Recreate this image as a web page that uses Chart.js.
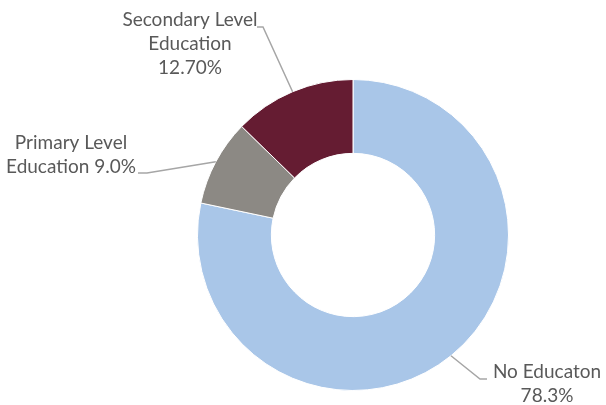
<!DOCTYPE html>
<html>
<head>
<meta charset="utf-8">
<script src="https://cdn.jsdelivr.net/npm/chart.js@4.4.0/dist/chart.umd.min.js"></script>
<style>
  html, body { margin: 0; padding: 0; background: #fff; }
  #wrap { width: 606px; height: 405px; }
</style>
</head>
<body>
<div id="wrap"><canvas id="chart"></canvas></div>
<script>
// data
const categories = ["No Educaton", "Primary Level Education", "Secondary Level Education"];
const shares = [78.3, 9.0, 12.7];
const shareLabels = ["78.3%", "9.0%", "12.70%"];
const colors = ["#a9c6e8", "#8c8984", "#651c32"];

// label text lines (as in the original) and where they sit
const labelLines = [
  ["No Educaton", "78.3%"],
  ["Primary Level", "Education 9.0%"],
  ["Secondary Level", "Education", "12.70%"]
];
const labelSpots = [
  { elbow: [480, 379], end: [487, 379], x: 547, y: 372 },
  { elbow: [147, 173], end: [138, 173], x: 71, y: 143 },
  { elbow: [263, 27], end: [257, 27], x: 190, y: 20 }
];

const leaderLabels = {
  id: "leaderLabels",
  afterDatasetsDraw(chart) {
    const ctx = chart.ctx;
    const arcs = chart.getDatasetMeta(0).data;
    ctx.save();
    arcs.forEach((arc, i) => {
      const mid = (arc.startAngle + arc.endAngle) / 2;
      const sx = arc.x + Math.cos(mid) * arc.outerRadius;
      const sy = arc.y + Math.sin(mid) * arc.outerRadius;
      const spot = labelSpots[i];
      ctx.strokeStyle = "#a6a6a6";
      ctx.lineWidth = 1.5;
      ctx.beginPath();
      ctx.moveTo(sx, sy);
      ctx.lineTo(spot.elbow[0], spot.elbow[1]);
      ctx.lineTo(spot.end[0], spot.end[1]);
      ctx.stroke();

      ctx.fillStyle = "#595959";
      ctx.font = "19px Lato, 'DejaVu Sans', sans-serif";
      ctx.textAlign = "center";
      ctx.textBaseline = "middle";
      labelLines[i].forEach((line, j) => {
        ctx.fillText(line, spot.x, spot.y + j * 24);
      });
    });
    ctx.restore();
  }
};

new Chart(document.getElementById("chart"), {
  type: "doughnut",
  data: {
    labels: categories,
    datasets: [{
      data: shares,
      backgroundColor: colors,
      borderColor: "#ffffff",
      borderWidth: 1
    }]
  },
  options: {
    responsive: true,
    maintainAspectRatio: false,
    animation: false,
    cutout: "52.5%",
    layout: { padding: { left: 197, right: 97, top: 79, bottom: 14 } },
    plugins: {
      legend: { display: false },
      tooltip: { enabled: false }
    }
  },
  plugins: [leaderLabels]
});
</script>
</body>
</html>
